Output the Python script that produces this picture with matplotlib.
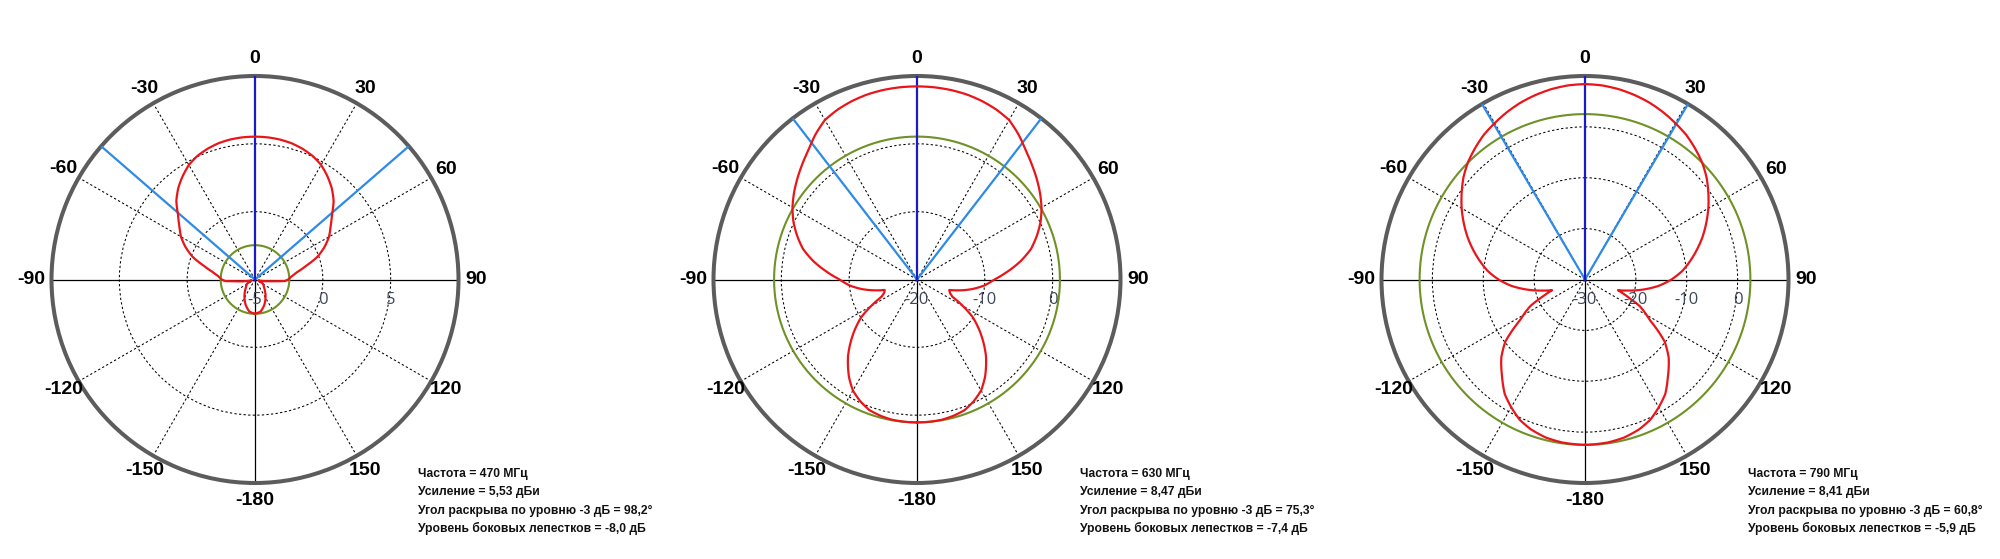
import numpy as np
import matplotlib
matplotlib.use("Agg")
import matplotlib.pyplot as plt

# ---------------- data (angle in degrees, 0 = boresight, clockwise +; gain in dBi) ----
p1_deg = [-180, -170, -160, -150, -140, -130, -120, -110, -105, -100, -95, -93, -90, -85, -80,
          -75, -70, -65, -60, -55, -50, -45, -40, -35, -30, -25, -20, -15, -10, -5, 0, 5, 10,
          15, 20, 25, 30, 35, 40, 45, 50, 55, 60, 65, 70, 75, 80, 85, 90, 93, 95, 100, 105, 110,
          120, 130, 140, 150, 160, 170, 180]
p1_db = [-2.47, -2.6, -3.0, -3.45, -3.85, -4.15, -4.3, -4.6, -4.75, -4.3, -3.56, -2.8, -2.55,
         -2.3, -1.85, -1.1, -0.1, 0.65, 1.3, 1.8, 2.4, 3.2, 3.8, 4.3, 4.75, 5.05, 5.25, 5.4, 5.48,
         5.52, 5.53, 5.52, 5.48, 5.4, 5.25, 5.05, 4.75, 4.3, 3.8, 3.2, 2.4, 1.8, 1.3, 0.65, -0.1,
         -1.1, -1.85, -2.3, -2.55, -2.8, -3.56, -4.3, -4.75, -4.6, -4.3, -4.15, -3.85, -3.45,
         -3.0, -2.6, -2.47]

p2_deg = [-180, -175, -170, -165, -160, -155, -150, -145, -138, -130, -124, -120, -116, -112,
          -108, -105, -100, -95, -90, -85, -80, -75, -70, -65, -60, -55, -50, -45, -40, -35, -30,
          -25, -20, -15, -10, -5, 0, 5, 10, 15, 20, 25, 30, 35, 40, 45, 50, 55, 60, 65, 70, 75,
          80, 85, 90, 95, 100, 105, 108, 112, 116, 120, 124, 130, 138, 145, 150, 155, 160, 165,
          170, 175, 180]
p2_db = [1.07, 1.05, 1.0, 0.8, 0.5, -0.2, -1.1, -2.5, -4.8, -7.8, -10.1, -12.2, -14.2, -14.8,
         -15.0, -13.8, -11.8, -10.0, -8.6, -6.6, -4.5, -2.6, -1.2, 0.1, 1.2, 2.15, 3.05, 3.95,
         4.9, 6.1, 7.15, 7.65, 8.0, 8.25, 8.38, 8.45, 8.47, 8.45, 8.38, 8.25, 8.0, 7.65, 7.15,
         6.1, 4.9, 3.95, 3.05, 2.15, 1.2, 0.1, -1.2, -2.6, -4.5, -6.6, -8.6, -10.0, -11.8, -13.8,
         -15.0, -14.8, -14.2, -12.2, -10.1, -7.8, -4.8, -2.5, -1.1, -0.2, 0.5, 0.8, 1.0, 1.05,
         1.07]

p3_deg = [-180, -172, -166, -160, -155, -150, -145, -139, -133, -128, -122, -116, -112, -108,
          -104, -100, -95, -90, -85, -80, -75, -70, -65, -60, -55, -50, -45, -40, -35, -30, -25,
          -20, -15, -10, -5, 0, 5, 10, 15, 20, 25, 30, 35, 40, 45, 50, 55, 60, 65, 70, 75, 80, 85,
          90, 95, 100, 104, 108, 112, 116, 122, 128, 133, 139, 145, 150, 155, 160, 166, 172, 180]
p3_db = [2.51, 2.35, 2.0, 1.3, 0.4, -1.0, -2.5, -5.1, -7.5, -10.1, -15.0, -18.0, -21.0, -23.2,
         -21.0, -18.5, -15.5, -13.0, -10.8, -9.0, -7.2, -5.4, -3.7, -2.0, -0.4, 1.2, 2.55, 3.65,
         4.7, 5.5, 6.3, 7.0, 7.55, 8.0, 8.3, 8.41, 8.3, 8.0, 7.55, 7.0, 6.3, 5.5, 4.7, 3.65, 2.55,
         1.2, -0.4, -2.0, -3.7, -5.4, -7.2, -9.0, -10.8, -13.0, -15.5, -18.5, -21.0, -23.2,
         -21.0, -18.0, -15.0, -10.1, -7.5, -5.1, -2.5, -1.0, 0.4, 1.3, 2.0, 2.35, 2.51]

freqs = ["470", "630", "790"]
gains = ["5,53", "8,47", "8,41"]
beamwidths = [98.2, 75.3, 60.8]
beam_txt = ["98,2", "75,3", "60,8"]
sidelobes = [-8.0, -7.4, -5.9]
sidelobe_txt = ["-8,0", "-7,4", "-5,9"]
gain_vals = [5.53, 8.47, 8.41]
r_mins = [-5, -20, -30]
r_max = 10
r_grids = [[0, 5], [-10, 0], [-20, -10, 0]]
r_labels = [["-5", "0", "5"], ["-20", "-10", "0"], ["-30", "-20", "-10", "0"]]
angle_ticks = [0, 30, 60, 90, 120, 150, 180, -150, -120, -90, -60, -30]
angle_labels = ["0", "30", "60", "90", "120", "150", "-180", "-150", "-120", "-90", "-60", "-30"]

patterns = [(p1_deg, p1_db), (p2_deg, p2_db), (p3_deg, p3_db)]
for d_, v_ in patterns:
    assert len(d_) == len(v_)

# ---------------- layout ------------------------------------------------------
W, H = 2000, 559
centers_x = [255, 917, 1585]
center_y = 279.5  # from top
R = 203.5

fig = plt.figure(figsize=(W / 100, H / 100), dpi=100)
fig.patch.set_facecolor("white")

RED = "#e8161a"
DBLUE = "#1a1ac8"
LBLUE = "#2e8ae6"
GREEN = "#6e9226"
RING = "#5c5c5c"
LBL = "#3f4759"

label_font = dict(family=["Liberation Sans Narrow", "Liberation Sans", "DejaVu Sans"],
                  weight="bold", size=14)
info_font = dict(family=["Liberation Sans", "DejaVu Sans"], weight="bold", size=8.7)

for i in range(3):
    cx = centers_x[i]
    left = (cx - R) / W
    bottom = (H - center_y - R) / H
    ax = fig.add_axes([left, bottom, 2 * R / W, 2 * R / H], projection="polar")
    ax.set_theta_zero_location("N")
    ax.set_theta_direction(-1)
    rmin = r_mins[i]
    ax.set_ylim(rmin, r_max)

    # grids
    ax.set_thetagrids([30, 60, 120, 150, 210, 240, 300, 330])
    ax.set_rgrids(r_grids[i])
    ax.xaxis.set_ticklabels([])
    ax.yaxis.set_ticklabels([])
    ax.grid(True, color="black", linestyle=(0, (2.2, 2.2)), linewidth=0.75)
    ax.spines["polar"].set_color(RING)
    ax.spines["polar"].set_linewidth(2.9)

    # solid axis lines
    for a in (90, 180, 270):
        ax.plot([np.deg2rad(a)] * 2, [rmin, r_max], color="black", lw=0.9, zorder=2)

    # green side-lobe level circle
    sl_level = gain_vals[i] + sidelobes[i]
    tt = np.linspace(0, 2 * np.pi, 721)
    ax.plot(tt, np.full_like(tt, sl_level), color=GREEN, lw=1.5, zorder=3)

    # red pattern
    deg, db = patterns[i]
    ln, = ax.plot(np.deg2rad(np.array(deg, float)), np.array(db, float), color=RED, lw=1.6,
                  zorder=5, solid_joinstyle="round")
    ln.get_path()._interpolation_steps = 30

    # beam lines
    half = beamwidths[i] / 2
    for a in (-half, half):
        ax.plot([np.deg2rad(a)] * 2, [rmin, r_max], color=LBLUE, lw=1.6, zorder=4)
    ax.plot([0, 0], [rmin, r_max], color=DBLUE, lw=1.6, zorder=4)

    # radial labels
    for v, s in zip([rmin] + r_grids[i], r_labels[i]):
        ax.annotate(s, xy=(np.pi / 2, v), xytext=(0, -14.4), textcoords="offset points",
                    ha="center", va="center", color=LBL, fontsize=12,
                    family=["Open Sans", "DejaVu Sans"], zorder=6, annotation_clip=False)

    # angle labels
    for a, s in zip(angle_ticks, angle_labels):
        th = np.deg2rad(a)
        d = 12.6 + (2.2 if a == -90 else 0)
        ax.annotate(s, xy=(th, r_max), xytext=(d * np.sin(th), d * np.cos(th)),
                    textcoords="offset points", ha="center", va="center",
                    annotation_clip=False, **label_font)

    # info text
    tx = (cx + 163) / W
    lines = [f"Частота = {freqs[i]} МГц",
             f"Усиление = {gains[i]} дБи",
             f"Угол раскрыва по уровню -3 дБ = {beam_txt[i]}°",
             f"Уровень боковых лепестков = {sidelobe_txt[i]} дБ"]
    for k, line in enumerate(lines):
        y = 1 - (474.5 + 18 * k) / H
        fig.text(tx, y, line, ha="left", va="center", color="#111111", **info_font)

fig.savefig("out.png", dpi=100, facecolor="white")
